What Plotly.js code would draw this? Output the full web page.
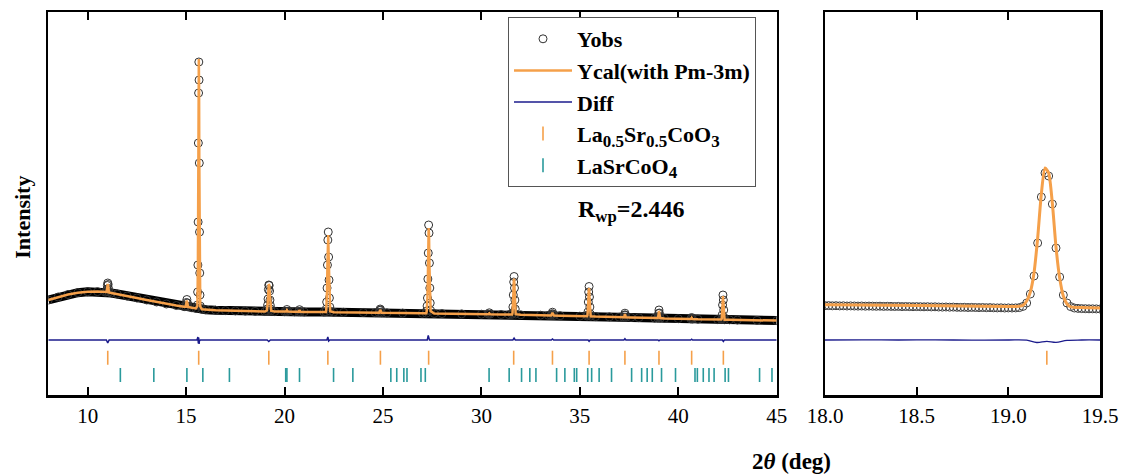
<!DOCTYPE html>
<html>
<head>
<meta charset="utf-8">
<script src="https://cdn.plot.ly/plotly-3.0.1.min.js"></script>
<style>html,body{margin:0;padding:0;background:#fff;}#chart{width:1123px;height:474px;}</style>
</head>
<body>
<div id="chart"></div>
<script>
// ---------- Main pattern (2theta in deg, intensity in a.u.) ----------
const bgX = [8.0, 8.5, 9.0, 9.5, 10.0, 10.5, 10.9, 11.2, 11.5, 12.0, 12.5, 13.0, 13.5, 14.0, 14.5, 14.9, 15.3, 15.5, 15.8, 16.0, 16.5, 17.0, 17.5, 18.0, 18.5, 19.0, 19.5, 20.0, 20.5, 21.0, 22.0, 22.5, 23.0, 24.0, 24.6, 25.2, 26.0, 27.0, 27.6, 28.0, 29.0, 30.0, 31.0, 31.4, 32.0, 33.0, 33.4, 34.0, 35.0, 35.8, 36.5, 37.0, 37.6, 38.0, 38.8, 39.3, 40.0, 41.0, 42.0, 42.6, 43.0, 44.0, 45.0];
const bgY = [95, 98, 100.5, 102.3, 103.3, 103.4, 102.8, 102, 101, 99, 97, 95, 93, 91, 89.5, 88.3, 87.2, 86.6, 85.8, 85.3, 84.8, 84.4, 84.1, 83.9, 83.7, 83.5, 83.4, 83.3, 83.2, 83.1, 82.9, 82.8, 82.7, 82.5, 82.3, 82.1, 81.9, 81.7, 81.5, 81.4, 81.1, 80.8, 80.5, 80.4, 80.2, 79.8, 79.6, 79.3, 78.8, 78.4, 78.1, 77.8, 77.5, 77.3, 76.9, 76.6, 76.3, 75.8, 75.4, 75.2, 75.0, 74.7, 74.4];

const peakX = [
  10.96, 10.98, 11.00, 11.02, 11.04, 11.06, 11.08,
  14.98, 15.01, 15.04, 15.07, 15.10,
  15.574, 15.586, 15.598, 15.610, 15.622, 15.634, 15.646, 15.658, 15.670, 15.682, 15.694, 15.706, 15.718,
  19.10, 19.12, 19.14, 19.16, 19.18, 19.20, 19.22, 19.24, 19.26, 19.28, 19.30, 19.32,
  20.08, 20.12, 20.16,
  20.72, 20.76, 20.80,
  22.10, 22.12, 22.14, 22.16, 22.18, 22.20, 22.22, 22.24, 22.26, 22.28, 22.30, 22.32,
  24.80, 24.84, 24.86, 24.88, 24.92,
  27.20, 27.22, 27.24, 27.26, 27.28, 27.30, 27.32, 27.34, 27.36, 27.38, 27.40, 27.42,
  30.36, 30.40, 30.44,
  31.56, 31.58, 31.60, 31.62, 31.64, 31.66, 31.68, 31.70, 31.72, 31.74,
  33.54, 33.58, 33.61, 33.64, 33.68,
  35.37, 35.39, 35.41, 35.43, 35.45, 35.47, 35.49, 35.51, 35.53, 35.55,
  37.24, 37.27, 37.29, 37.31, 37.34,
  38.96, 38.98, 39.00, 39.02, 39.04, 39.06, 39.08,
  40.64, 40.68, 40.72,
  42.19, 42.21, 42.23, 42.25, 42.27, 42.29, 42.31, 42.33, 42.35
];
const peakObs = [
  103.5, 106, 109.5, 112, 110.5, 106.5, 103,
  88.5, 92.5, 95.5, 92, 88.2,
  90, 103, 130, 173, 252, 302, 333, 315, 232, 163, 122, 100, 89,
  84.2, 86, 90, 96, 105.5, 110, 109.5, 104, 95, 89.5, 86, 84.3,
  83.6, 85.5, 83.5,
  83.4, 85.3, 83.3,
  83.2, 86, 93, 107, 130, 155, 163, 138, 115, 97, 88, 83.8,
  82.4, 84.5, 86, 85, 82.3,
  81.8, 84, 89, 97, 116, 142, 170, 162, 132, 107, 92, 84.5,
  80.8, 82.2, 80.8,
  80.6, 82, 88, 100, 113, 118.5, 107, 95, 86, 81,
  79.6, 81.2, 82.8, 81, 79.5,
  78.9, 80, 83, 93, 103, 108.5, 98, 88, 81, 78.8,
  77.8, 80, 81.8, 80, 77.7,
  77, 78.5, 81.5, 85, 82, 78.5, 76.9,
  76.1, 77.5, 76,
  75.5, 76.5, 80, 90, 100, 95, 85, 77.5, 75.3
];
const peakCal = [
  103, 105.5, 109.5, 111, 109.5, 106, 102.5,
  88.2, 92, 94.5, 91.5, 88,
  89, 101, 128, 176, 250, 305, 336, 312, 236, 165, 120, 99, 88.5,
  84.5, 86.5, 90.5, 97.5, 106, 111, 110, 104, 95, 89, 85.8, 84.3,
  83.5, 84.8, 83.5,
  83.4, 84.8, 83.3,
  83.1, 85.5, 92, 106, 131, 156, 160, 139, 114, 96, 87.5, 83.7,
  82.3, 84, 85.2, 84.5, 82.3,
  81.7, 83.5, 88, 98, 117, 144, 167, 160, 130, 106, 91, 84,
  80.8, 81.6, 80.8,
  80.5, 81.8, 87.5, 100, 112, 116.5, 108, 95, 85.5, 80.8,
  79.6, 81, 82.2, 80.8, 79.5,
  78.8, 79.8, 83.5, 93.5, 104, 107, 97.5, 87.5, 80.8, 78.7,
  77.8, 79.6, 81, 79.5, 77.7,
  77, 78.4, 81.5, 84, 81.5, 78.3, 76.9,
  76.1, 77.2, 76,
  75.5, 76.3, 80.5, 91, 99, 94, 84.5, 77.2, 75.3
];

const diffX = [8.0, 8.8, 9.6, 10.4, 10.95, 11.02, 11.09, 12.5, 14.0, 15.55, 15.60, 15.62, 15.64, 15.66, 15.68, 15.73, 17.0, 19.12, 19.20, 19.28, 20.5, 22.15, 22.20, 22.24, 22.30, 24.0, 27.25, 27.30, 27.36, 29.0, 31.60, 31.66, 31.72, 33.55, 33.61, 33.67, 35.42, 35.47, 35.52, 37.24, 37.29, 37.34, 38.97, 39.02, 39.07, 40.63, 40.68, 40.73, 42.24, 42.29, 42.34, 45.0];
const diffY = [55, 55.3, 55.1, 55, 55, 52, 55, 55.1, 55, 55, 58, 51.5, 57.5, 51, 54.5, 55, 55, 55, 53.5, 55, 55, 55, 58, 54, 55, 55, 55, 59.5, 55, 55, 55, 56.8, 55, 55, 56, 55, 55, 53.8, 55, 55, 56.3, 55, 55, 54.2, 55, 55, 55.8, 55, 55, 53.5, 55, 55];

// Bragg reflection positions
const lscTicks = [11.02, 15.64, 19.20, 22.20, 24.87, 27.32, 31.64, 33.61, 35.47, 37.29, 39.02, 40.68, 42.29];
const lscoTicks = [11.66, 13.36, 15.04, 15.85, 17.20, 20.06, 20.12, 20.76, 22.49, 23.47, 25.40, 25.70, 26.06, 26.22, 26.93, 27.15, 30.39, 31.41, 32.04, 32.46, 32.77, 33.82, 34.24, 34.72, 34.84, 35.40, 35.60, 35.98, 36.61, 37.63, 38.14, 38.42, 38.68, 39.15, 39.86, 40.85, 40.97, 41.27, 41.56, 41.82, 42.38, 42.55, 44.13, 44.76];

// ---------- Zoomed panel (18.0 - 19.5 deg) ----------
const zoomX = [18.00, 18.02, 18.04, 18.06, 18.08, 18.10, 18.12, 18.14, 18.16, 18.18, 18.20, 18.22, 18.24, 18.26, 18.28, 18.30, 18.32, 18.34, 18.36, 18.38, 18.40, 18.42, 18.44, 18.46, 18.48, 18.50, 18.52, 18.54, 18.56, 18.58, 18.60, 18.62, 18.64, 18.66, 18.68, 18.70, 18.72, 18.74, 18.76, 18.78, 18.80, 18.82, 18.84, 18.86, 18.88, 18.90, 18.92, 18.94, 18.96, 18.98, 19.00, 19.02, 19.04, 19.06, 19.08, 19.10, 19.12, 19.14, 19.16, 19.18, 19.20, 19.22, 19.24, 19.26, 19.28, 19.30, 19.32, 19.34, 19.36, 19.38, 19.40, 19.42, 19.44, 19.46, 19.48, 19.50];
const zoomObs = [89.3, 89.4, 89.2, 89.3, 89.1, 89.2, 89.0, 89.1, 89.0, 88.9, 89.0, 88.8, 88.9, 88.8, 88.7, 88.8, 88.6, 88.7, 88.6, 88.5, 88.6, 88.4, 88.5, 88.4, 88.3, 88.4, 88.3, 88.2, 88.3, 88.1, 88.2, 88.0, 87.9, 88.0, 87.8, 87.9, 87.7, 87.6, 87.7, 87.5, 87.6, 87.5, 87.4, 87.5, 87.3, 87.4, 87.2, 87.1, 87.2, 87.0, 87.1, 87.0, 87.1, 87.4, 88.6, 92, 101, 119, 152, 198, 222, 219, 191, 147, 118, 100, 92, 88.4, 87.0, 86.6, 86.4, 86.3, 86.2, 86.2, 86.1, 86.0];
const zoomCalX = [18.0, 18.5, 19.0, 19.06, 19.08, 19.10, 19.12, 19.14, 19.16, 19.18, 19.20, 19.22, 19.24, 19.26, 19.28, 19.30, 19.32, 19.34, 19.40, 19.50];
const zoomCalY = [90.3, 89.6, 88.6, 88.7, 89.8, 94, 103, 122, 157, 201, 227, 222, 192, 148, 117, 99, 91, 88.2, 87.4, 87.1];
const zoomDiffX = [18.0, 18.2, 18.4, 18.6, 18.8, 19.0, 19.1, 19.155, 19.21, 19.26, 19.32, 19.4, 19.5];
const zoomDiffY = [55, 55.2, 55, 55.1, 54.9, 55, 54.8, 52.5, 53.6, 52.6, 54.6, 55, 55];
const zoomLscTicks = [19.21];

// ---------- helpers ----------
function merge(ax, ay, bx, by) {
  const pts = ax.map((x, i) => [x, ay[i]]).concat(bx.map((x, i) => [x, by[i]]));
  pts.sort((a, b) => a[0] - b[0]);
  return [pts.map(p => p[0]), pts.map(p => p[1])];
}
const [obsX, obsY] = merge(bgX, bgY, peakX, peakObs);
const [calX, calY] = merge(bgX, bgY, peakX, peakCal);

const ORANGE = '#F5A04A';
const TEAL = '#2A9A9C';
const NAVY = '#1B1B8C';
const LSC_ROW = 37.3;
const LSCO_ROW = 20;
const SERIF = 'Liberation Serif';
const sub = t => '<sub><span style="font-size:17px">' + t + '</span></sub>';

const traces = [
  {x: bgX, y: bgY, mode: 'lines', line: {color: '#000', width: 9}, showlegend: false, hoverinfo: 'skip', xaxis: 'x', yaxis: 'y'},
  {x: obsX, y: obsY, mode: 'markers', name: 'Yobs', marker: {symbol: 'circle-open', size: 8, color: '#333', line: {width: 1}}, xaxis: 'x', yaxis: 'y'},
  {x: calX, y: calY, mode: 'lines', name: 'Ycal(with Pm-3m)', line: {color: ORANGE, width: 2.5}, xaxis: 'x', yaxis: 'y'},
  {x: diffX, y: diffY, mode: 'lines', name: 'Diff', line: {color: NAVY, width: 1.5}, xaxis: 'x', yaxis: 'y'},
  {x: lscTicks, y: lscTicks.map(() => LSC_ROW), mode: 'markers', name: 'La' + sub('0.5') + 'Sr' + sub('0.5') + 'CoO' + sub('3'), marker: {symbol: 'line-ns-open', size: 10, color: ORANGE, line: {width: 1.6, color: ORANGE}}, xaxis: 'x', yaxis: 'y'},
  {x: lscoTicks, y: lscoTicks.map(() => LSCO_ROW), mode: 'markers', name: 'LaSrCoO' + sub('4'), marker: {symbol: 'line-ns-open', size: 10, color: TEAL, line: {width: 1.6, color: TEAL}}, xaxis: 'x', yaxis: 'y'},
  // zoom panel
  {x: zoomX, y: zoomObs, mode: 'markers', showlegend: false, marker: {symbol: 'circle-open', size: 8, color: '#404040', line: {width: 1}}, xaxis: 'x2', yaxis: 'y2'},
  {x: zoomCalX, y: zoomCalY, mode: 'lines', showlegend: false, line: {color: ORANGE, width: 3, shape: 'spline', smoothing: 0.6}, xaxis: 'x2', yaxis: 'y2'},
  {x: zoomDiffX, y: zoomDiffY, mode: 'lines', showlegend: false, line: {color: NAVY, width: 1.3, shape: 'spline'}, xaxis: 'x2', yaxis: 'y2'},
  {x: zoomLscTicks, y: zoomLscTicks.map(() => LSC_ROW), mode: 'markers', showlegend: false, marker: {symbol: 'line-ns-open', size: 10, color: ORANGE, line: {width: 1.6, color: ORANGE}}, xaxis: 'x2', yaxis: 'y2'}
];

const W = 1123;
function xAxis(extra) {
  return Object.assign({
    ticks: 'inside', ticklen: 8, tickwidth: 2, tickcolor: '#000',
    showline: true, linewidth: 2.5, linecolor: '#000', mirror: 'ticks',
    showgrid: false, zeroline: false, automargin: false,
    tickfont: {family: SERIF, size: 21, color: '#000', weight: 'normal'}
  }, extra);
}
function yAxis(extra) {
  return Object.assign({
    range: [0, 383], showline: true, linewidth: 2.5, linecolor: '#000', mirror: true,
    ticks: '', showticklabels: false, showgrid: false, zeroline: false, automargin: false
  }, extra);
}

const layout = {
  width: W, height: 474, autosize: false,
  font: {family: SERIF, color: '#000'},
  margin: {l: 0, r: 0, t: 12, b: 79, pad: 0},
  paper_bgcolor: '#fff', plot_bgcolor: '#fff',
  showlegend: true,
  xaxis: xAxis({domain: [48.3 / W, 776.7 / W], range: [8, 45], tickvals: [10, 15, 20, 25, 30, 35, 40, 45], anchor: 'y'}),
  yaxis: yAxis({domain: [0, 1], anchor: 'x'}),
  xaxis2: xAxis({domain: [825 / W, 1100 / W], range: [18, 19.5], tickvals: [18, 18.5, 19, 19.5], ticktext: ['18.0', '18.5', '19.0', '19.5'], anchor: 'y2'}),
  yaxis2: yAxis({domain: [0, 1], anchor: 'x2'}),
  legend: {
    x: 508 / W, y: (395 - 17) / 383, xanchor: 'left', yanchor: 'top',
    bgcolor: '#fff', bordercolor: '#555', borderwidth: 1,
    font: {family: SERIF, size: 22, color: '#000', weight: 'bold'},
    itemwidth: 58, tracegroupgap: 0
  },
  annotations: [
    {text: 'Intensity', xref: 'paper', yref: 'paper', x: 21.7 / W, y: (395 - 217) / 383, textangle: -90, showarrow: false, xanchor: 'center', yanchor: 'middle', font: {family: SERIF, size: 22, color: '#000', weight: 'bold'}},
    {text: 'R<sub>wp</sub>=2.446', xref: 'paper', yref: 'paper', x: 631 / W, y: (395 - 211) / 383, showarrow: false, xanchor: 'center', yanchor: 'middle', font: {family: SERIF, size: 24, color: '#000', weight: 'bold'}},
    {text: '2<i>θ</i> (deg)', xref: 'paper', yref: 'paper', x: 791.7 / W, y: (395 - 461.7) / 383, showarrow: false, xanchor: 'center', yanchor: 'middle', font: {family: SERIF, size: 23, color: '#000', weight: 'bold'}}
  ]
};

Plotly.newPlot('chart', traces, layout, {staticPlot: true, displayModeBar: false});
</script>
</body>
</html>
